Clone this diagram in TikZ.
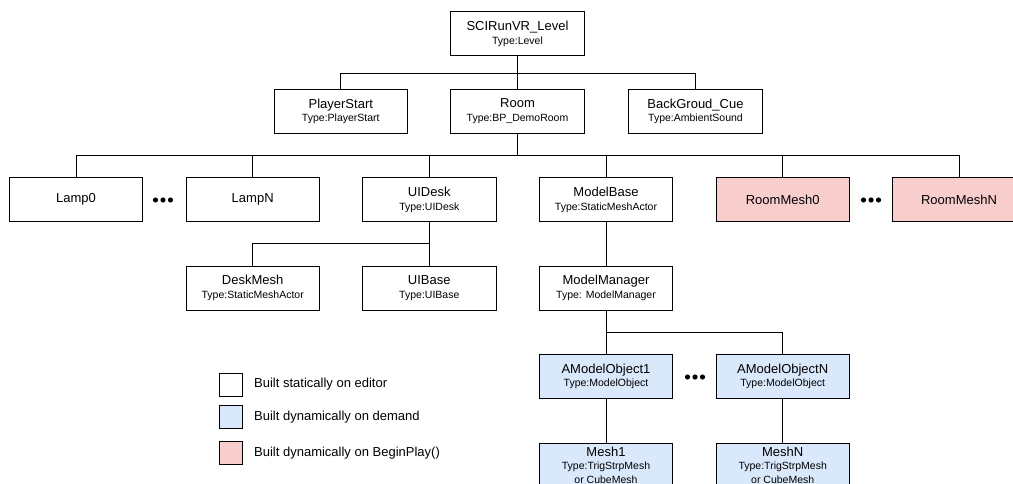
\documentclass[tikz,border=0pt]{standalone}
\usepackage{fontspec}
\setmainfont{Liberation Sans}
\definecolor{dynblue}{HTML}{DAE8FC}
\definecolor{dynred}{HTML}{F8CECC}
\newcommand{\mf}{\fontsize{13}{13.5}\selectfont}
\newcommand{\tf}{\fontsize{10.5}{13.5}\selectfont}
\tikzset{
  box/.style={draw=black, line width=0.9pt, fill=white, minimum width=133.3pt, minimum height=44pt, inner sep=0pt, align=center, font=\mf},
  bluebox/.style={box, fill=dynblue},
  redbox/.style={box, fill=dynred},
  wire/.style={draw=black, line width=0.9pt},
  legsq/.style={draw=black, line width=0.9pt, minimum width=23pt, minimum height=23pt, inner sep=0pt},
  legtxt/.style={anchor=west, font=\mf, inner sep=0pt},
  dot/.style={fill=black}
}
\begin{document}
\begin{tikzpicture}[x=1pt,y=-1pt]
\useasboundingbox (0,0) rectangle (1013,484);
\clip (0,0) rectangle (1013,484);
% top
\node[box] (lvl) at (517.5,33.7) {SCIRunVR\_Level\\{\tf Type:Level}};
\node[box] (ps) at (340.8,111.3) {PlayerStart\\{\tf Type:PlayerStart}};
\node[box] (room) at (517.5,111.3) {Room\\{\tf Type:BP\_DemoRoom}};
\node[box] (bgc) at (695.5,111.3) {BackGroud\_Cue\\{\tf Type:AmbientSound}};
% row 2
\node[box] (lamp0) at (76,199.7) {Lamp0};
\node[box] (lampn) at (252.7,199.7) {LampN};
\node[box] (uidesk) at (429.3,199.7) {UIDesk\\{\tf Type:UIDesk}};
\node[box] (mbase) at (606,199.7) {ModelBase\\{\tf Type:StaticMeshActor}};
\node[redbox] (rm0) at (782.7,199.7) {RoomMesh0};
\node[redbox] (rmn) at (959,199.7) {RoomMeshN};
% row 3
\node[box] (desk) at (252.7,288) {DeskMesh\\{\tf Type:StaticMeshActor}};
\node[box] (uibase) at (429.3,288) {UIBase\\{\tf Type:UIBase}};
\node[box] (mman) at (606,288) {ModelManager\\{\tf Type: ModelManager}};
% row 4
\node[bluebox] (mo1) at (606,376.3) {AModelObject1\\{\tf Type:ModelObject}};
\node[bluebox] (mon) at (782.7,376.3) {AModelObjectN\\{\tf Type:ModelObject}};
% row 5
\node[bluebox] (m1) at (606,465) {Mesh1\\{\tf Type:TrigStrpMesh}\\{\tf or CubeMesh}};
\node[bluebox] (mn) at (782.7,465) {MeshN\\{\tf Type:TrigStrpMesh}\\{\tf or CubeMesh}};
% buses
\coordinate (b0) at (517.5,73.3);
\coordinate (b1) at (517.5,155.5);
\coordinate (b2) at (429.3,243.8);
\coordinate (b3) at (606,332);
\draw[wire] (lvl.south) -- (b0);
\draw[wire] (ps.north) |- (b0);
\draw[wire] (room.north) -- (b0);
\draw[wire] (bgc.north) |- (b0);
\draw[wire] (room.south) -- (b1);
\draw[wire] (lamp0.north) |- (b1);
\draw[wire] (lampn.north) |- (b1);
\draw[wire] (uidesk.north) |- (b1);
\draw[wire] (mbase.north) |- (b1);
\draw[wire] (rm0.north) |- (b1);
\draw[wire] (rmn.north) |- (b1);
\draw[wire] (uidesk.south) -- (b2);
\draw[wire] (desk.north) |- (b2);
\draw[wire] (uibase.north) -- (b2);
\draw[wire] (mbase.south) -- (mman.north);
\draw[wire] (mman.south) -- (b3);
\draw[wire] (mo1.north) -- (b3);
\draw[wire] (mon.north) |- (b3);
\draw[wire] (mo1.south) -- (m1.north);
\draw[wire] (mon.south) -- (mn.north);
% ellipses
\foreach \cx/\cy in {163/200, 871/200, 695/377}{
  \fill[dot] (\cx-7.5,\cy) circle (2.6pt);
  \fill[dot] (\cx,\cy) circle (2.6pt);
  \fill[dot] (\cx+7.5,\cy) circle (2.6pt);
}
% legend
\node[legsq, fill=white] (l1) at (230.5,384.5) {};
\node[legsq, fill=dynblue] (l2) at (230.5,417) {};
\node[legsq, fill=dynred] (l3) at (230.5,453) {};
\node[legtxt] (t1) at (254,384.5) {Built statically on editor};
\node[legtxt] (t2) at (254,417) {Built dynamically on demand};
\node[legtxt] (t3) at (254,453) {Built dynamically on BeginPlay()};
\end{tikzpicture}
\end{document}
